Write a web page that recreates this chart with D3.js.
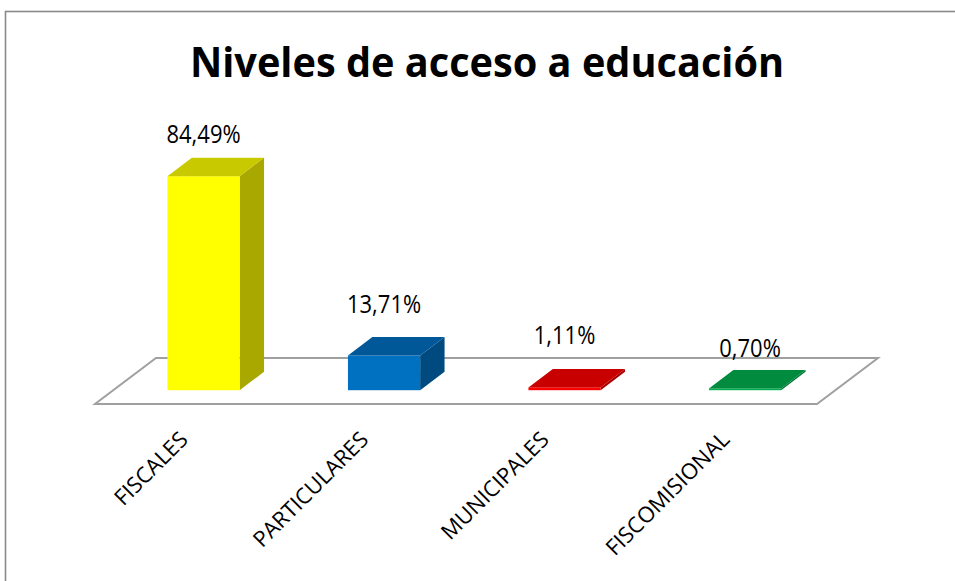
<!DOCTYPE html>
<html><head><meta charset="utf-8">
<script src="https://cdn.jsdelivr.net/npm/d3@7"></script>
<style>html,body{margin:0;padding:0;background:#fff;overflow:hidden}</style>
</head><body>
<svg id="chart" width="955" height="581"></svg>
<script>
const title = "Niveles de acceso a educación";
const categories = ["FISCALES", "PARTICULARES", "MUNICIPALES", "FISCOMISIONAL"];
const values = [84.49, 13.71, 1.11, 0.70];
const valueLabels = ["84,49%", "13,71%", "1,11%", "0,70%"];
const colors = ["#FFFF00", "#0070C0", "#FF0000", "#00B050"];

const svg = d3.select("#chart");
const font = "'Open Sans', 'Noto Sans', sans-serif";

// chart border
svg.append("rect").attr("x", 5.5).attr("y", 11.5).attr("width", 1000).attr("height", 1000)
  .attr("fill", "#fff").attr("stroke", "#8a8a8a").attr("stroke-width", 1.6);

// title, fit to reference width
const t = svg.append("text").attr("transform", "translate(487,77) scale(1,1.05)").attr("text-anchor", "middle")
  .attr("font-family", font).attr("font-weight", 700).attr("font-size", 40).attr("fill", "#000").text(title);
const tw = t.node().getComputedTextLength();
t.attr("font-size", 40 * 594 / tw);

// geometry
const floorFront = 404, depthX = 61, depthY = -46;
const x = d3.scaleBand().domain(categories).range([95, 817]).paddingInner(0.6).paddingOuter(0.3);
const y = d3.scaleLinear().domain([0, 100]).range([0, 253.3]);
const frontOff = 0.3, barDepth = 0.4;
const fx = depthX * frontOff, fy = depthY * frontOff;
const bdx = depthX * barDepth, bdy = depthY * barDepth;
const base = floorFront + fy;

// floor
const x0 = x.range()[0], x1 = x.range()[1];
svg.append("polygon")
  .attr("points", [[x0, floorFront], [x1, floorFront], [x1 + depthX, floorFront + depthY], [x0 + depthX, floorFront + depthY]].map(p => p.join(",")).join(" "))
  .attr("fill", "#fff").attr("stroke", "#a0a0a0").attr("stroke-width", 2);

const shade = (c, k) => { const r = d3.rgb(c); return d3.rgb(r.r * k, r.g * k, r.b * k).toString(); };

const g = svg.append("g");
categories.forEach((c, i) => {
  const bx0 = x(c) + fx, bx1 = bx0 + x.bandwidth();
  const top = base - y(values[i]);
  const col = colors[i];
  g.append("polygon").attr("points", [[bx1, top], [bx1 + bdx, top + bdy], [bx1 + bdx, base + bdy], [bx1, base]].map(p => p.join(",")).join(" "))
    .attr("fill", shade(col, 0.66));
  g.append("rect").attr("x", bx0).attr("y", top).attr("width", bx1 - bx0).attr("height", base - top).attr("fill", col);
  g.append("polygon").attr("points", [[bx0, top], [bx0 + bdx, top + bdy], [bx1 + bdx, top + bdy], [bx1, top]].map(p => p.join(",")).join(" "))
    .attr("fill", shade(col, 0.79));
});

// value labels
const nudge = [[0, 5], [0, -4], [0, -5], [5, 7]];
categories.forEach((c, i) => {
  const cx = x(c) + fx + x.bandwidth() / 2;
  const top = base - y(values[i]);
  svg.append("text").attr("transform", `translate(${cx + nudge[i][0]},${top - 38 + nudge[i][1]}) scale(1,1.12)`)
    .attr("text-anchor", "middle").attr("font-family", font).attr("font-size", 22).attr("fill", "#000")
    .text(valueLabels[i]);
});

// category labels
categories.forEach(c => {
  const ax = x(c) + x.bandwidth() / 2 + 4;
  svg.append("text").attr("transform", `translate(${ax},441) rotate(-45)`)
    .attr("text-anchor", "end").attr("font-family", font).attr("font-size", 22).attr("fill", "#000")
    .text(c);
});
</script>
</body></html>
